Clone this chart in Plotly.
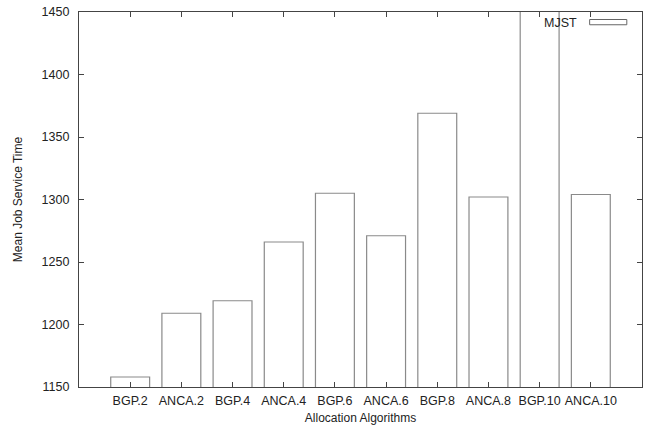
import plotly.graph_objects as go

categories = ["BGP.2", "ANCA.2", "BGP.4", "ANCA.4", "BGP.6", "ANCA.6",
              "BGP.8", "ANCA.8", "BGP.10", "ANCA.10"]
mjst = [1158, 1209, 1219, 1266, 1305, 1271, 1369, 1302, 1480, 1304]
y_ticks = [1150, 1200, 1250, 1300, 1350, 1400, 1450]

font_family = "Liberation Sans, Arial, sans-serif"
text_color = "#222222"

fig = go.Figure()
fig.add_trace(go.Bar(
    x=categories, y=mjst, name="MJST",
    marker=dict(color="white", line=dict(color="#8a8a8a", width=1.2)),
    showlegend=False,
))

fig.update_layout(
    width=651, height=427,
    margin=dict(l=79, r=9, t=12, b=40),
    paper_bgcolor="white", plot_bgcolor="white",
    bargap=0.24,
    font=dict(family=font_family, size=12.5, color=text_color),
    xaxis=dict(
        type="category", range=[-1, 10], automargin=False,
        showline=True, linecolor="#444444", linewidth=1.2, mirror="allticks",
        ticks="inside", ticklen=5, tickcolor="#444444",
        showgrid=False, zeroline=False,
        tickfont=dict(size=12.5), ticklabelstandoff=2,
        title=dict(text="Allocation Algorithms", font=dict(size=12), standoff=6),
    ),
    yaxis=dict(
        range=[1150, 1450], tickvals=y_ticks, automargin=False,
        showline=True, linecolor="#444444", linewidth=1.2, mirror="allticks",
        ticks="inside", ticklen=5, tickcolor="#444444",
        showgrid=False, zeroline=False,
        tickfont=dict(size=12.5), ticklabelstandoff=6,
        title=dict(text="Mean Job Service Time", font=dict(size=12), standoff=16),
    ),
)

# legend-like key (gnuplot style)
fig.add_annotation(xref="paper", yref="paper", x=0.888, y=0.972,
                   text="MJST", showarrow=False, xanchor="right", yanchor="middle",
                   font=dict(size=12.5, color=text_color))
fig.add_shape(type="rect", xref="paper", yref="paper",
              x0=0.907, x1=0.973, y0=0.966, y1=0.98,
              line=dict(color="#666666", width=1), fillcolor="white")

fig.write_html("out.html")
